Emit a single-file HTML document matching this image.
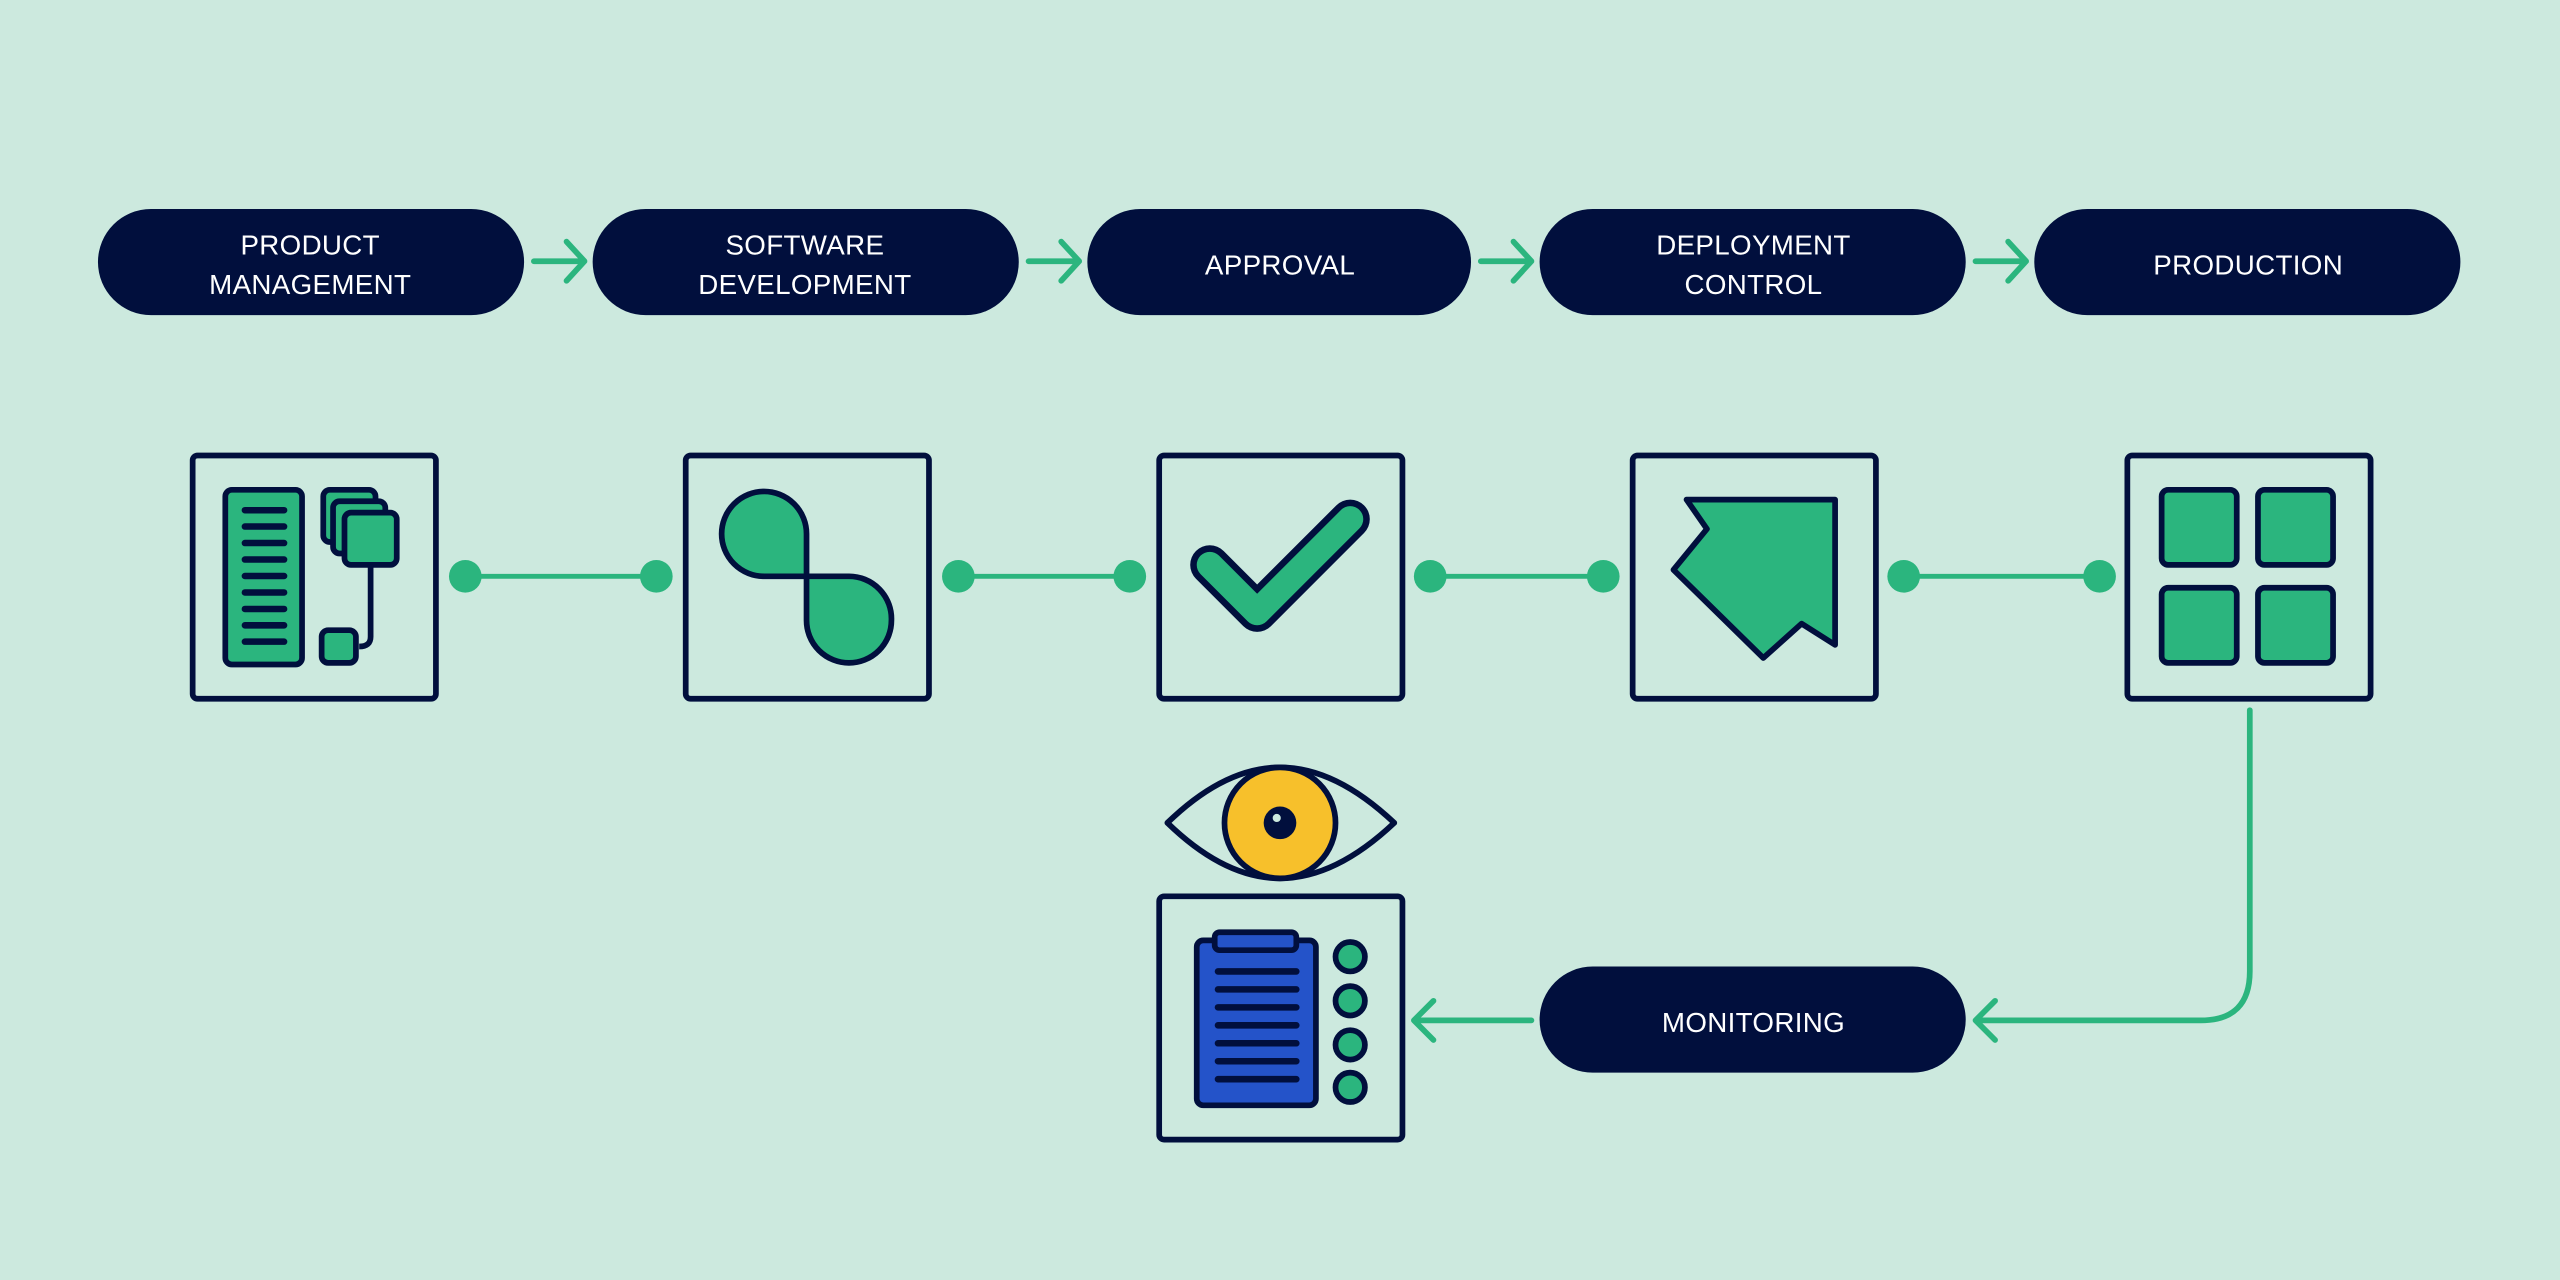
<!DOCTYPE html>
<html><head><meta charset="utf-8"><style>
html,body{margin:0;padding:0;background:#cce9de;}
svg{display:block}
text{font-family:"Liberation Sans",sans-serif;font-size:17px;fill:#fff;text-anchor:middle;font-weight:500;letter-spacing:0.2px}
</style></head><body>
<svg width="2560" height="1280" viewBox="0 0 1568 784" xmlns="http://www.w3.org/2000/svg">
<rect width="1568" height="784" fill="#cce9de"/>
<g fill="#010f3d">
<rect x="60" y="128" width="261" height="65" rx="32.5"/>
<rect x="363" y="128" width="261" height="65" rx="32.5"/>
<rect x="666" y="128" width="235" height="65" rx="32.5"/>
<rect x="943" y="128" width="261" height="65" rx="32.5"/>
<rect x="1246" y="128" width="261" height="65" rx="32.5"/>
<rect x="943" y="592" width="261" height="65" rx="32.5"/>
</g>
<text x="190" y="156">PRODUCT</text><text x="190" y="180">MANAGEMENT</text>
<text x="493" y="156">SOFTWARE</text><text x="493" y="180">DEVELOPMENT</text>
<text x="784" y="168">APPROVAL</text>
<text x="1074" y="156">DEPLOYMENT</text><text x="1074" y="180">CONTROL</text>
<text x="1377" y="168">PRODUCTION</text>
<text x="1074" y="632">MONITORING</text>
<g stroke="#2bb57e" stroke-width="3.5" fill="none" stroke-linecap="round" stroke-linejoin="round">
<path d="M327,160H357M347,148L358,160L347,172"/>
<path d="M630,160H660M650,148L661,160L650,172"/>
<path d="M907,160H937M927,148L938,160L927,172"/>
<path d="M1210,160H1240M1230,148L1241,160L1230,172"/>
<path d="M1378,435V595Q1378,625 1348,625H1212M1222,613L1210,625L1222,637"/>
<path d="M938,625H868M878,613L866,625L878,637"/>
<path d="M285,353H402M587,353H692M876,353H982M1166,353H1286" stroke-width="3"/>
</g>
<g fill="#2bb57e">
<circle cx="285" cy="353" r="10"/><circle cx="402" cy="353" r="10"/>
<circle cx="587" cy="353" r="10"/><circle cx="692" cy="353" r="10"/>
<circle cx="876" cy="353" r="10"/><circle cx="982" cy="353" r="10"/>
<circle cx="1166" cy="353" r="10"/><circle cx="1286" cy="353" r="10"/>
</g>
<g fill="none" stroke="#010f3d" stroke-width="3.5">
<rect x="118" y="279" width="149" height="149" rx="3"/>
<rect x="420" y="279" width="149" height="149" rx="3"/>
<rect x="710" y="279" width="149" height="149" rx="3"/>
<rect x="1000" y="279" width="149" height="149" rx="3"/>
<rect x="1303" y="279" width="149" height="149" rx="3"/>
<rect x="710" y="549" width="149" height="149" rx="3"/>
</g>
<g stroke="#010f3d" stroke-width="3.5" stroke-linejoin="round" fill="#2bb57e">
<!-- box1 -->
<rect x="138" y="300" width="47" height="107" rx="4"/>
<rect x="198" y="300" width="32" height="32" rx="4"/>
<rect x="204" y="307" width="32" height="32" rx="4"/>
<rect x="211" y="314" width="32" height="32" rx="4"/>
<path d="M227,346V390Q227,396 220,396" fill="none"/>
<rect x="197" y="386" width="21" height="20" rx="4"/>
<!-- box2 -->
<path d="M442,327A26,26 0 0 1 494,327V353H468A26,26 0 0 1 442,327Z"/>
<path d="M494,353H520A26,26 0 0 1 546,380A26,26 0 0 1 494,380Z"/>
<!-- box4 -->
<path d="M1033,306H1124V395L1103.5,382L1080,403L1025,349L1045.5,324Z"/>
<!-- box5 -->
<rect x="1324" y="300" width="46" height="46" rx="4"/>
<rect x="1383" y="300" width="46" height="46" rx="4"/>
<rect x="1324" y="360" width="46" height="46" rx="4"/>
<rect x="1383" y="360" width="46" height="46" rx="4"/>
<!-- box6 -->
<rect x="733" y="576" width="73" height="101" rx="4" fill="#2453c9"/>
<rect x="744" y="571" width="50" height="11" rx="3" fill="#2453c9"/>
<circle cx="827" cy="586" r="9"/><circle cx="827" cy="613" r="9"/>
<circle cx="827" cy="640" r="9"/><circle cx="827" cy="666" r="9"/>
<!-- eye -->
<path d="M715,504Q750,470 784,470Q818,470 854,504Q818,538 784,538Q750,538 715,504Z" fill="none"/>
<circle cx="784" cy="504" r="34" fill="#f7c02b"/>
<circle cx="784" cy="504" r="10" fill="#010f3d" stroke="none"/>
</g>
<circle cx="782" cy="501" r="2.5" fill="#cce9de"/>
<!-- checkmark -->
<polyline points="741,346 770,375 827,318" fill="none" stroke="#010f3d" stroke-width="24" stroke-linejoin="round" stroke-linecap="round"/>
<polyline points="741,346 770,375 827,318" fill="none" stroke="#2bb57e" stroke-width="16" stroke-linejoin="round" stroke-linecap="round"/>
<g stroke="#010f3d" stroke-width="4" stroke-linecap="round">
<path d="M150,312.5H174M150,322.5H174M150,332.6H174M150,342.7H174M150,352.8H174M150,362.9H174M150,373H174M150,383H174M150,393H174"/>
<path d="M746,595H794M746,606H794M746,617H794M746,628H794M746,639H794M746,650H794M746,661H794"/>
</g>
</svg>
</body></html>
